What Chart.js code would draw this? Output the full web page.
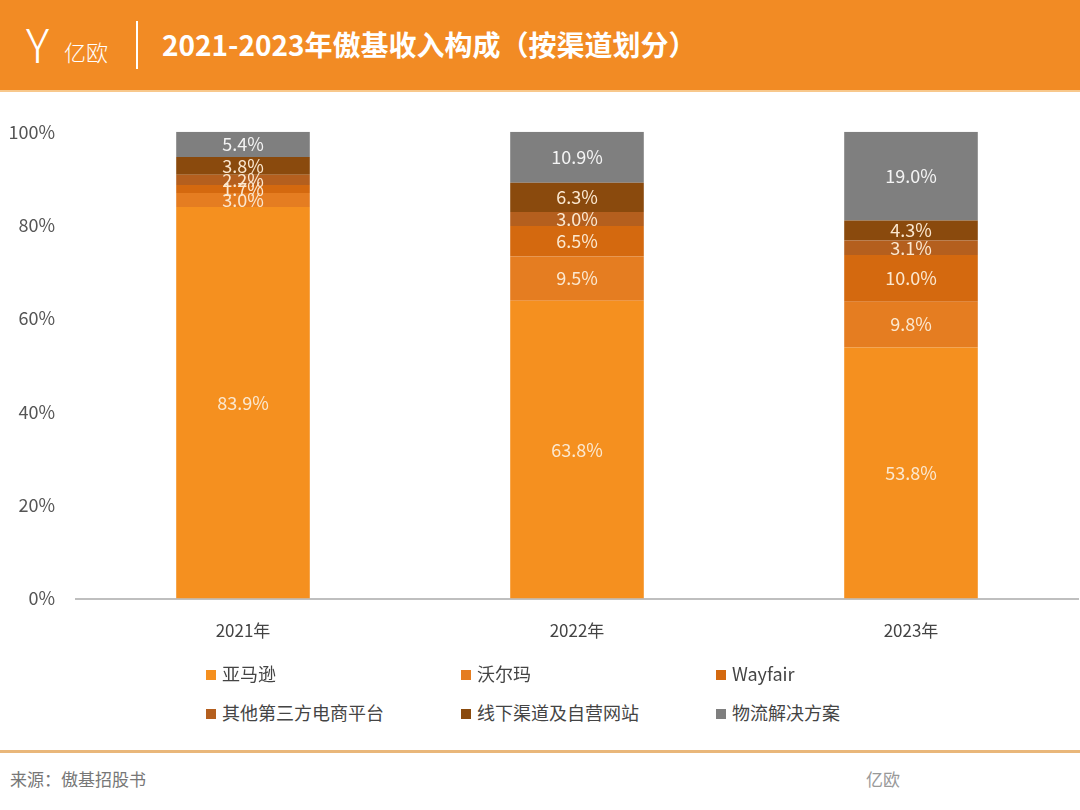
<!DOCTYPE html>
<html>
<head>
<meta charset="utf-8">
<script src="https://cdn.jsdelivr.net/npm/chart.js@4"></script>
<style>
  html, body { margin: 0; padding: 0; background: #fff; }
  body { width: 1080px; height: 810px; position: relative; overflow: hidden; font-family: "Noto Sans CJK SC", "Noto Sans", sans-serif; }
  #header { position: absolute; left: 0; top: 0; width: 1080px; height: 90px; background: #F28B24; border-bottom: 2px solid #F8C88C; }
  #logo { position: absolute; left: 26px; top: 18px; color: #fff; }
  #logo .y { position: absolute; left: 0; top: 0; font-size: 46px; font-weight: 300; line-height: 50px; }
  #logo .t { position: absolute; left: 38px; top: 20px; font-size: 22px; line-height: 26px; white-space: nowrap; font-weight: 300; }
  #sep { position: absolute; left: 136px; top: 21px; width: 2px; height: 48px; background: #fff; }
  #title { position: absolute; left: 162px; top: 22px; color: #fff; font-size: 28px; font-weight: bold; line-height: 44px; white-space: nowrap; }
  #chartBox { position: absolute; left: 0; top: 100px; width: 1080px; height: 566px; }
  #legend { position: absolute; left: 206px; top: 658px; width: 800px; }
  .item { position: absolute; font-size: 18px; color: #444; white-space: nowrap; line-height: 30px; }
  .item i { display: inline-block; width: 10px; height: 10px; margin-right: 6px; vertical-align: 1px; }
  #footline { position: absolute; left: 0; top: 750px; width: 1080px; height: 3px; background: #E9B77A; }
  #source { position: absolute; left: 10px; top: 766px; font-size: 17px; color: #777; }
  #brand { position: absolute; left: 866px; top: 766px; font-size: 17px; color: #999; }
</style>
</head>
<body>
<div id="header">
  <div id="logo"><span class="y">Y</span><span class="t">亿欧</span></div>
  <div id="sep"></div>
  <div id="title">2021-2023年傲基收入构成（按渠道划分）</div>
</div>
<div id="chartBox"><canvas id="canvas" width="1080" height="566"></canvas></div>
<div id="legend"></div>
<div id="footline"></div>
<div id="source">来源：傲基招股书</div>
<div id="brand">亿欧</div>
<script>
var years = ['2021年', '2022年', '2023年'];
var channels = ['亚马逊', '沃尔玛', 'Wayfair', '其他第三方电商平台', '线下渠道及自营网站', '物流解决方案'];
var amazon = [83.9, 63.8, 53.8];
var walmart = [3.0, 9.5, 9.8];
var wayfair = [1.7, 6.5, 10.0];
var otherPlatforms = [2.2, 3.0, 3.1];
var offline = [3.8, 6.3, 4.3];
var logistics = [5.4, 10.9, 19.0];
var yTicks = [0, 20, 40, 60, 80, 100];
var colors = ['#F5901F', '#E57D21', '#D4690F', '#B45F1E', '#8A4A0D', '#7F7F7F'];

var series = [amazon, walmart, wayfair, otherPlatforms, offline, logistics];

// legend, 3 columns
var legendEl = document.getElementById('legend');
channels.forEach(function(name, i) {
    var d = document.createElement('div');
    d.className = 'item';
    d.style.left = ((i % 3) * 255) + 'px';
    d.style.top = (Math.floor(i / 3) * 39) + 'px';
    d.innerHTML = '<i style="background:' + colors[i] + '"></i>' + name;
    legendEl.appendChild(d);
});

// labels inside each segment
var segLabels = {
    id: 'segLabels',
    afterDatasetsDraw: function(chart) {
        var ctx = chart.ctx;
        ctx.save();
        ctx.font = '18px "Noto Sans CJK SC", "Noto Sans", sans-serif';
        ctx.textAlign = 'center';
        ctx.textBaseline = 'middle';
        chart.data.datasets.forEach(function(dataset, i) {
            var meta = chart.getDatasetMeta(i);
            meta.data.forEach(function(bar, j) {
                ctx.fillStyle = i == 5 ? '#F4F4F4' : '#FBE8D0';
                var y = (bar.y + bar.base) / 2;
                ctx.fillText(dataset.data[j].toFixed(1) + '%', bar.x, y);
            });
        });
        ctx.restore();
    }
};

var ctx = document.getElementById('canvas').getContext('2d');
window.myBar = new Chart(ctx, {
    type: 'bar',
    data: {
        labels: years,
        datasets: channels.map(function(name, i) {
            return {
                label: name,
                data: series[i],
                backgroundColor: colors[i],
                borderWidth: 0,
                barPercentage: 0.4,
                categoryPercentage: 1.0
            };
        })
    },
    plugins: [segLabels],
    options: {
        responsive: false,
        animation: false,
        maintainAspectRatio: false,
        layout: { padding: { top: 25, left: 0, right: 2, bottom: 3 } },
        plugins: { legend: { display: false }, tooltip: { enabled: false } },
        scales: {
            x: {
                stacked: true,
                grid: { display: false, drawTicks: false },
                border: { color: '#BFBFBF', width: 2 },
                ticks: { color: '#444', padding: 22, font: { size: 17, family: '"Noto Sans CJK SC", "Noto Sans", sans-serif' } }
            },
            y: {
                stacked: true,
                min: 0,
                max: 100,
                afterBuildTicks: function(axis) {
                    axis.ticks = yTicks.map(function(v) { return { value: v }; });
                },
                afterFit: function(axis) { axis.width = 76; },
                grid: { display: false, drawTicks: false },
                border: { display: false },
                ticks: {
                    color: '#555',
                    padding: 21,
                    font: { size: 18, family: '"Noto Sans CJK SC", "Noto Sans", sans-serif' },
                    callback: function(v) { return v + '%'; }
                }
            }
        }
    }
});
</script>
</body>
</html>
